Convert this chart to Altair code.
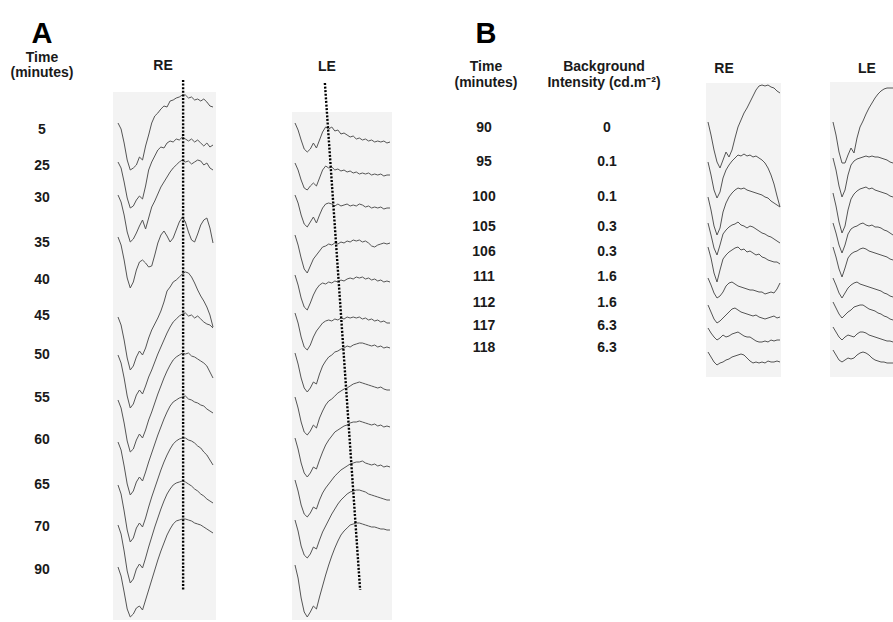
import altair as alt
import pandas as pd

W, H = 893, 622
TRACE_COLOR = "#555555"
PANEL_FILL = "#f3f3f3"
FONT = "Liberation Sans"

# Sample interval of the digitised sweeps (ms)
DT = 8

# ---- ERG sweeps: amplitude relative to sweep onset (positive = up) ----
A_RE = {
    "5":  [0, -6, -20, -37, -47, -45, -42, -34, -37, -23, -12, 0, 7, 10, 14, 17, 16, 22, 23, 25, 26, 28, 28, 25, 26, 23, 24, 22, 24, 21, 17, 16],
    "25": [0, -6, -20, -36, -46, -44, -38, -34, -37, -24, -8, 0, 6, 12, 15, 14, 19, 21, 20, 23, 22, 25, 23, 21, 23, 20, 22, 19, 16, 19, 15, 17],
    "30": [0, -7, -20, -37, -47, -44, -38, -31, -25, -34, -23, -12, -6, 1, 8, 13, 18, 23, 27, 30, 33, 35, 33, 34, 31, 33, 35, 34, 30, 32, 27, 25],
    "35": [0, -8, -23, -41, -51, -45, -33, -25, -23, -26, -30, -29, -18, -6, 2, 6, 1, -5, -1, 7, 15, 20, 15, 5, -3, -5, 3, 12, 17, 19, 9, -6],
    "45": [0, -8, -23, -41, -53, -49, -40, -34, -38, -31, -21, -13, -7, -1, 6, 15, 26, 30, 35, 37, 40, 43, 45, 44, 40, 34, 27, 21, 16, 10, 2, -10],
    "50": [0, -8, -23, -41, -53, -49, -40, -35, -39, -31, -22, -15, -7, 1, 8, 15, 22, 28, 33, 36, 39, 41, 42, 39, 40, 37, 39, 36, 33, 31, 30, 27],
    "55": [0, -8, -23, -41, -52, -49, -40, -34, -38, -30, -20, -12, -3, 6, 14, 22, 29, 35, 40, 43, 45, 47, 46, 47, 44, 43, 41, 39, 37, 34, 28, 22],
    "60": [0, -8, -24, -42, -53, -49, -40, -35, -39, -30, -20, -11, -2, 7, 15, 23, 30, 36, 40, 42, 44, 45, 46, 43, 42, 40, 39, 37, 36, 33, 31, 29],
    "65": [0, -9, -26, -45, -57, -53, -43, -38, -42, -33, -22, -12, -3, 6, 15, 23, 30, 36, 41, 44, 46, 47, 47, 45, 44, 42, 39, 37, 33, 30, 25, 20],
    "70": [0, -9, -26, -46, -58, -54, -44, -39, -43, -33, -22, -12, -2, 7, 16, 24, 31, 36, 40, 42, 43, 44, 43, 41, 39, 36, 34, 31, 29, 26, 24, 22],
    "90": [0, -9, -25, -42, -50, -47, -41, -39, -43, -33, -23, -13, -3, 7, 16, 24, 32, 38, 43, 46, 47, 48, 48, 47, 46, 44, 43, 42, 40, 38, 36, 34],
}

A_LE = {
    "5":  [0, -7, -17, -26, -29, -26, -20, -25, -17, -9, -4, -6, -4, -8, -7, -11, -10, -12, -14, -13, -16, -15, -17, -16, -18, -17, -19, -18, -19, -18, -20, -19],
    "25": [0, -7, -17, -25, -27, -23, -20, -23, -15, -7, -3, -5, -4, -7, -6, -8, -7, -9, -8, -10, -9, -11, -10, -11, -10, -12, -11, -12, -11, -13, -12, -12],
    "30": [0, -8, -20, -29, -32, -27, -22, -28, -20, -13, -9, -8, -9, -11, -9, -11, -10, -9, -11, -10, -11, -9, -10, -12, -11, -13, -12, -13, -12, -14, -13, -13],
    "35": [0, -10, -23, -34, -38, -31, -24, -20, -16, -12, -11, -9, -10, -8, -9, -7, -8, -6, -7, -5, -6, -5, -7, -6, -8, -11, -12, -10, -9, -8, -9, -8],
    "40": [0, -10, -23, -32, -35, -28, -20, -14, -10, -8, -9, -7, -8, -6, -7, -5, -6, -4, -3, -4, -2, -3, -2, -4, -3, -5, -4, -6, -5, -7, -6, -7],
    "45": [0, -10, -24, -34, -37, -32, -24, -18, -14, -10, -8, -7, -8, -6, -7, -5, -6, -4, -5, -4, -5, -4, -6, -5, -7, -6, -8, -7, -9, -8, -10, -10],
    "50": [0, -11, -25, -35, -39, -35, -29, -31, -21, -13, -8, -4, -2, 1, 2, 4, 5, 7, 6, 8, 9, 10, 10, 9, 8, 7, 8, 6, 7, 5, 6, 5],
    "55": [0, -11, -25, -35, -38, -34, -28, -31, -21, -14, -8, -4, -2, 1, 4, 6, 8, 9, 11, 13, 14, 15, 14, 13, 12, 11, 10, 9, 10, 8, 7, 7],
    "60": [0, -11, -25, -35, -39, -35, -29, -31, -22, -14, -7, -2, 2, 6, 8, 10, 12, 13, 15, 16, 16, 17, 16, 15, 14, 13, 14, 12, 13, 11, 12, 11],
    "65": [0, -11, -25, -34, -37, -33, -27, -29, -20, -13, -8, -4, 0, 4, 7, 10, 12, 14, 16, 17, 18, 18, 19, 17, 16, 15, 16, 14, 15, 13, 14, 13],
    "70": [0, -11, -26, -35, -38, -34, -27, -29, -20, -12, -6, 0, 6, 11, 16, 20, 23, 26, 28, 29, 30, 30, 29, 28, 26, 25, 24, 23, 22, 21, 20, 20],
    "90": [0, -13, -33, -47, -52, -47, -41, -44, -32, -21, -10, 0, 9, 17, 24, 30, 34, 37, 40, 41, 42, 42, 41, 40, 39, 38, 38, 37, 36, 36, 35, 35],
}

B_RE = {
    "90":  [0, -13, -28, -40, -46, -38, -30, -35, -28, -16, -5, 2, 9, 14, 20, 26, 32, 36, 37, 36, 37, 35, 34, 31, 29],
    "95":  [0, -13, -28, -36, -30, -16, -8, -3, 1, 4, 7, 6, 8, 6, 7, 5, 6, 4, 2, -1, -6, -13, -22, -34, -45],
    "100": [0, -13, -29, -38, -31, -15, -6, 0, 4, 7, 9, 8, 9, 7, 6, 5, 4, 3, 2, 0, -1, -4, -6, -8, -10],
    "105": [0, -12, -25, -32, -22, -11, -7, -4, -2, -1, 1, -2, -3, -5, -3, -4, -6, -8, -10, -11, -13, -14, -16, -18, -20],
    "106": [0, -11, -26, -35, -23, -12, -8, -5, -3, -1, 0, -3, -2, -5, -4, -6, -8, -7, -10, -11, -13, -14, -15, -15, -17],
    "111": [0, -7, -15, -20, -18, -14, -8, -5, -4, -6, -8, -9, -10, -11, -12, -12, -13, -14, -14, -16, -15, -14, -15, -11, -5],
    "112": [0, -7, -14, -18, -16, -13, -10, -7, -4, -3, -5, -7, -8, -9, -10, -11, -10, -12, -13, -14, -13, -12, -11, -13, -12],
    "117": [0, -5, -9, -12, -10, -7, -9, -8, -6, -5, -4, -6, -8, -9, -9, -11, -13, -14, -14, -13, -14, -12, -13, -12, -12],
    "118": [0, -5, -10, -13, -11, -10, -8, -7, -5, -4, -3, -2, -3, -6, -9, -11, -10, -11, -10, -11, -9, -10, -10, -9, -10],
}

B_LE = {
    "90":  [0, -13, -30, -41, -41, -33, -26, -31, -16, -5, 1, 8, 14, 19, 24, 28, 31, 33, 34, 34, 34],
    "95":  [0, -12, -28, -39, -32, -17, -7, -3, -1, 0, 1, 2, 1, 2, 1, 1, 0, -1, -2, -4, -5],
    "100": [0, -13, -29, -40, -33, -17, -6, -1, 2, 4, 5, 6, 4, 5, 3, 2, 1, 0, -1, -3, -4],
    "105": [0, -10, -22, -30, -22, -11, -6, -4, -3, -1, 0, -2, -3, -2, -4, -4, -5, -7, -8, -10, -12],
    "106": [0, -10, -22, -30, -21, -11, -7, -5, -4, -2, -1, -2, -4, -5, -6, -7, -8, -9, -10, -12, -13],
    "111": [0, -7, -15, -20, -15, -10, -7, -5, -4, -6, -7, -8, -9, -10, -11, -12, -13, -15, -16, -18, -19],
    "112": [0, -6, -12, -16, -13, -10, -8, -5, -4, -3, -3, -5, -7, -8, -9, -11, -12, -14, -15, -17, -18],
    "117": [0, -5, -10, -13, -10, -8, -9, -10, -7, -5, -5, -6, -8, -9, -10, -11, -12, -13, -14, -14, -15],
    "118": [0, -5, -10, -12, -10, -8, -9, -8, -5, -3, -2, -3, -5, -8, -10, -11, -12, -12, -13, -13, -13],
}

# Row labels
A_TIMES = ["5", "25", "30", "35", "40", "45", "50", "55", "60", "65", "70", "90"]
B_TIMES = ["90", "95", "100", "105", "106", "111", "112", "117", "118"]
B_INTENSITY = ["0", "0.1", "0.1", "0.3", "0.3", "1.6", "1.6", "6.3", "6.3"]

# b-wave peak latency guides (ms): start and end of each dotted line
RE_PEAK_MS = (170, 170)
LE_PEAK_MS = (78, 170)

# ---------------- layout (pixels) ----------------
A_RE_ROWS = [123, 162, 195, 237, 317, 355, 400, 442, 485, 525, 567]
A_LE_ROWS = [123, 163, 195, 235, 275, 313, 353, 397, 438, 480, 520, 565]
B_RE_ROWS = [122, 162, 197, 223, 247, 278, 305, 328, 352]
B_LE_ROWS = [122, 158, 193, 223, 247, 278, 302, 327, 350]

A_LABEL_Y = [130, 166, 198, 243, 280, 316, 355, 398, 440, 485, 527, 570]
B_LABEL_Y = [128, 162, 197, 227, 252, 277, 303, 326, 348]

PANEL_BOXES = pd.DataFrame({
    "x0": [113, 292, 706, 830], "x1": [216, 392, 781, 893],
    "y0": [92, 112, 83, 82], "y1": [620, 620, 377, 377],
})

PX_X = alt.Scale(domain=[0, W], range=[0, W], nice=False, zero=False)
PX_Y = alt.Scale(domain=[0, H], range=[0, H], nice=False, zero=False)
AMP_Y = alt.Scale(domain=[-H, 0], range=[H, 0], nice=False, zero=False)


def sweeps_frame(name, sweeps, rows):
    recs = []
    for (label, amps), row in zip(sweeps.items(), rows):
        for i, a in enumerate(amps):
            recs.append({"sweep": f"{name} {label}", "t": i * DT, "y": a - row})
    return pd.DataFrame(recs)


def time_scale(sweeps, x_range):
    n = len(next(iter(sweeps.values())))
    return alt.Scale(domain=[0, (n - 1) * DT], range=list(x_range), nice=False, zero=False)


def sweep_layer(name, sweeps, rows, x_range):
    return alt.Chart(sweeps_frame(name, sweeps, rows)).mark_line(
        color=TRACE_COLOR, strokeWidth=1.0, strokeJoin="round"
    ).encode(
        x=alt.X("t:Q", scale=time_scale(sweeps, x_range), axis=None),
        y=alt.Y("y:Q", scale=AMP_Y, axis=None),
        detail="sweep:N",
    )


def guide_layer(sweeps, x_range, t_pair, y_top, y_bot):
    df = pd.DataFrame({"t0": [t_pair[0]], "t1": [t_pair[1]], "y0": [-y_top], "y1": [-y_bot]})
    return alt.Chart(df).mark_rule(
        color="black", strokeWidth=2.4, strokeDash=[2, 1.6], strokeCap="butt"
    ).encode(
        x=alt.X("t0:Q", scale=time_scale(sweeps, x_range), axis=None),
        x2="t1:Q",
        y=alt.Y("y0:Q", scale=AMP_Y, axis=None),
        y2="y1:Q",
    )


def text_layer(rows, size, baseline, color="#1a1a1a"):
    df = pd.DataFrame(rows, columns=["label", "x", "y"])
    return alt.Chart(df).mark_text(
        font=FONT, fontSize=size, fontWeight="bold", align="center",
        baseline=baseline, color=color
    ).encode(
        x=alt.X("x:Q", scale=PX_X, axis=None),
        y=alt.Y("y:Q", scale=PX_Y, axis=None),
        text="label:N",
    )


boxes = alt.Chart(PANEL_BOXES).mark_rect(color=PANEL_FILL).encode(
    x=alt.X("x0:Q", scale=PX_X, axis=None), x2="x1:Q",
    y=alt.Y("y0:Q", scale=PX_Y, axis=None), y2="y1:Q",
)

A_RE_X = (118, 213)
A_LE_X = (295, 390)
B_RE_X = (708, 780)
B_LE_X = (833, 893)

sweeps = [
    sweep_layer("A RE", A_RE, A_RE_ROWS, A_RE_X),
    sweep_layer("A LE", A_LE, A_LE_ROWS, A_LE_X),
    sweep_layer("B RE", B_RE, B_RE_ROWS, B_RE_X),
    sweep_layer("B LE", B_LE, B_LE_ROWS, B_LE_X),
]

guides = [
    guide_layer(A_RE, A_RE_X, RE_PEAK_MS, 80, 590),
    guide_layer(A_LE, A_LE_X, LE_PEAK_MS, 83, 590),
]

panel_letters = text_layer([("A", 42, 43), ("B", 486, 43)], 29, "alphabetic", "black")

headers = text_layer([
    ("Time", 42, 62), ("(minutes)", 42, 77),
    ("RE", 163, 70), ("LE", 327, 71),
    ("Time", 486, 71), ("(minutes)", 486, 87),
    ("Background", 604, 71), ("Intensity (cd.m\u207b\u00b2)", 604, 87),
    ("RE", 724, 73), ("LE", 867, 73),
], 14, "alphabetic")

row_labels = text_layer(
    [(t, 42, y) for t, y in zip(A_TIMES, A_LABEL_Y)]
    + [(t, 484, y) for t, y in zip(B_TIMES, B_LABEL_Y)]
    + [(v, 607, y) for v, y in zip(B_INTENSITY, B_LABEL_Y)],
    14, "middle",
)

chart = alt.layer(
    boxes, *sweeps, *guides, panel_letters, headers, row_labels
).resolve_scale(
    x="independent", y="independent"
).properties(
    width=W, height=H, padding=0, autosize=alt.AutoSizeParams(type="none"),
    background="white",
).configure_view(stroke=None)

chart.save("out.html", embed_options={"renderer": "svg", "actions": False})
